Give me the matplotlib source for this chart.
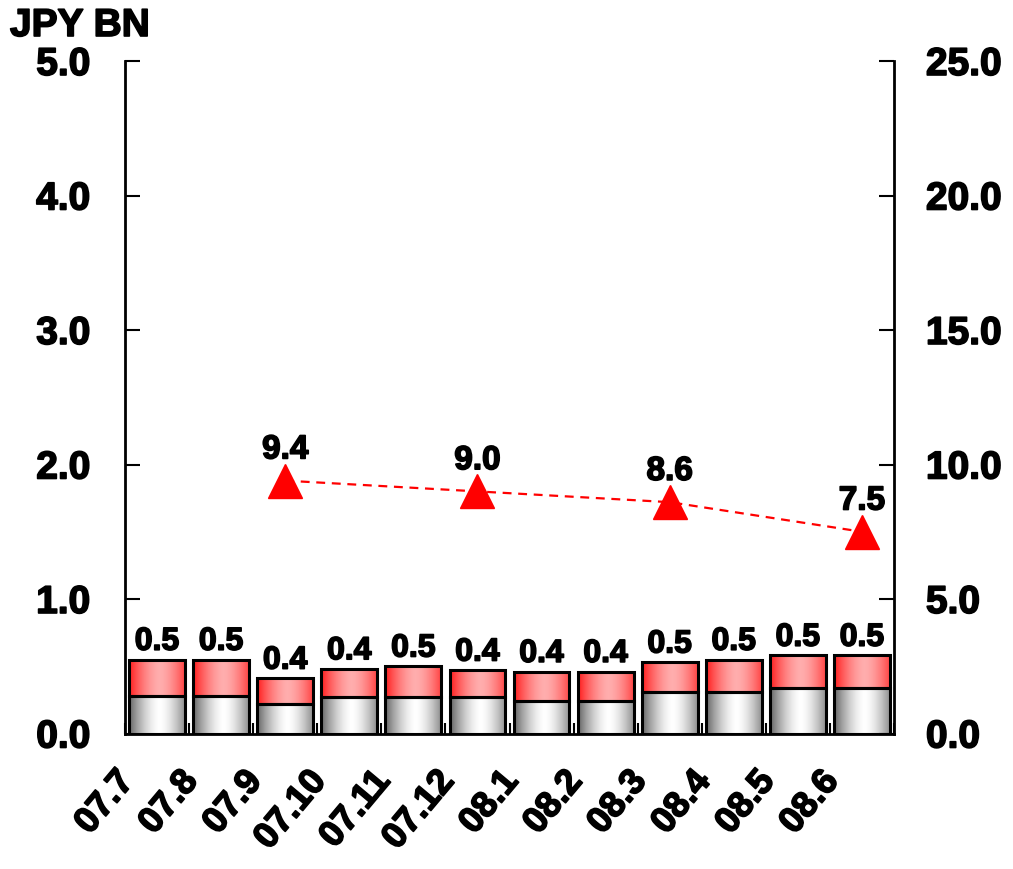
import numpy as np
import matplotlib
matplotlib.use("Agg")
import matplotlib.pyplot as plt
import matplotlib.patheffects as pe
from matplotlib.patches import Rectangle
from matplotlib.transforms import ScaledTranslation

plt.rcParams['font.family'] = ['Liberation Sans', 'DejaVu Sans']
plt.rcParams['font.weight'] = 'bold'

# Monthly data
months = ["07.7", "07.8", "07.9", "07.10", "07.11", "07.12",
          "08.1", "08.2", "08.3", "08.4", "08.5", "08.6"]
lower = [0.28, 0.28, 0.22, 0.27, 0.27, 0.27, 0.24, 0.24, 0.31, 0.31, 0.34, 0.34]
upper = [0.27, 0.27, 0.19, 0.21, 0.23, 0.20, 0.22, 0.22, 0.22, 0.24, 0.24, 0.24]
quarter_idx = [2, 5, 8, 11]
quarter_vals = [9.4, 9.0, 8.6, 7.5]

left_ticks = [0.0, 1.0, 2.0, 3.0, 4.0, 5.0]
right_ticks = [0.0, 5.0, 10.0, 15.0, 20.0, 25.0]

# heavier strokes for all text
heavy = [pe.withStroke(linewidth=1.2, foreground='black')]

fig = plt.figure(figsize=(10.13, 8.7), dpi=100)
ax = fig.add_axes([125 / 1013, 1 - 734.5 / 870, (894 - 125) / 1013, (734.5 - 62) / 870])

n = len(months)
x = np.arange(n)
bw = 0.87

# horizontal shading profiles for the bar segments
t = np.linspace(0, 1, 64)
b = 1 - np.clip(np.abs(t - 0.55) / 0.55, 0, 1) ** 1.6
gray = np.stack([0.40 + 0.60 * b] * 3, axis=-1)[None, :, :]
red = np.stack([np.ones_like(b), 0.12 + 0.56 * b, 0.12 + 0.56 * b], axis=-1)[None, :, :]

for i in range(n):
    x0, x1 = x[i] - bw / 2, x[i] + bw / 2
    lo = lower[i]
    tot = lower[i] + upper[i]
    ax.imshow(gray, extent=(x0, x1, 0, lo), aspect='auto', interpolation='bilinear', zorder=2)
    ax.imshow(red, extent=(x0, x1, lo, tot), aspect='auto', interpolation='bilinear', zorder=2)
    ax.add_patch(Rectangle((x0, 0), bw, lo, fill=False, ec='black', lw=2.2, zorder=3))
    ax.add_patch(Rectangle((x0, lo), bw, upper[i], fill=False, ec='black', lw=2.2, zorder=3))
    label = np.floor(round(tot * 10, 6)) / 10
    ax.annotate(f"{label:.1f}", (x[i], tot), xytext=(0, 7), textcoords='offset points',
                ha='center', va='baseline', fontsize=23, fontweight='bold', zorder=4,
                path_effects=heavy)

ax.set_xlim(-0.5, n - 0.5)
ax.set_ylim(0, 5)
ax.set_yticks(left_ticks)
ax.set_yticklabels([f"{v:.1f}" for v in left_ticks])
ax.tick_params(axis='y', direction='in', length=11, width=1.5, pad=25, labelsize=28)

ax.set_xticks(x)
ax.set_xticklabels(months, rotation=50, ha='right', va='top', fontsize=26, fontweight='bold')
ax.set_xticks(np.arange(n + 1) - 0.5, minor=True)
ax.tick_params(axis='x', which='major', length=0, pad=22)
ax.tick_params(axis='x', which='minor', direction='in', length=8, width=1.5)
for lab in ax.get_xticklabels():
    lab.set_transform(lab.get_transform() + ScaledTranslation(-0.16, 0, fig.dpi_scale_trans))

for s in ['left', 'bottom']:
    ax.spines[s].set_linewidth(2)
ax.spines['top'].set_visible(False)
ax.spines['right'].set_visible(False)

ax2 = ax.twinx()
ax2.set_ylim(0, 25)
ax2.set_yticks(right_ticks)
ax2.set_yticklabels([f"{v:.1f}" for v in right_ticks])
ax2.tick_params(axis='y', direction='in', length=11, width=1.5, pad=23, labelsize=28)
ax2.spines['right'].set_linewidth(2)
for s in ['top', 'left', 'bottom']:
    ax2.spines[s].set_visible(False)

ax2.plot(quarter_idx, quarter_vals, color='red', lw=1.6, ls=(0, (4, 3)), zorder=3)
ax2.plot(quarter_idx, quarter_vals, ls='none', marker='^', markersize=25,
         color='red', zorder=4)
for xi, v in zip(quarter_idx, quarter_vals):
    ax2.annotate(f"{v:.1f}", (xi, v), xytext=(0, 16), textcoords='offset points',
                 ha='center', va='baseline', fontsize=24, fontweight='bold',
                 path_effects=heavy)

for tl in ax.get_yticklabels() + ax2.get_yticklabels() + ax.get_xticklabels():
    tl.set_fontweight('bold')
    tl.set_path_effects(heavy)

fig.text(10 / 1013, 1 - 37 / 870, "JPY BN", fontsize=28, fontweight='bold',
         ha='left', va='baseline', path_effects=heavy)

fig.savefig("out.png", dpi=100)
